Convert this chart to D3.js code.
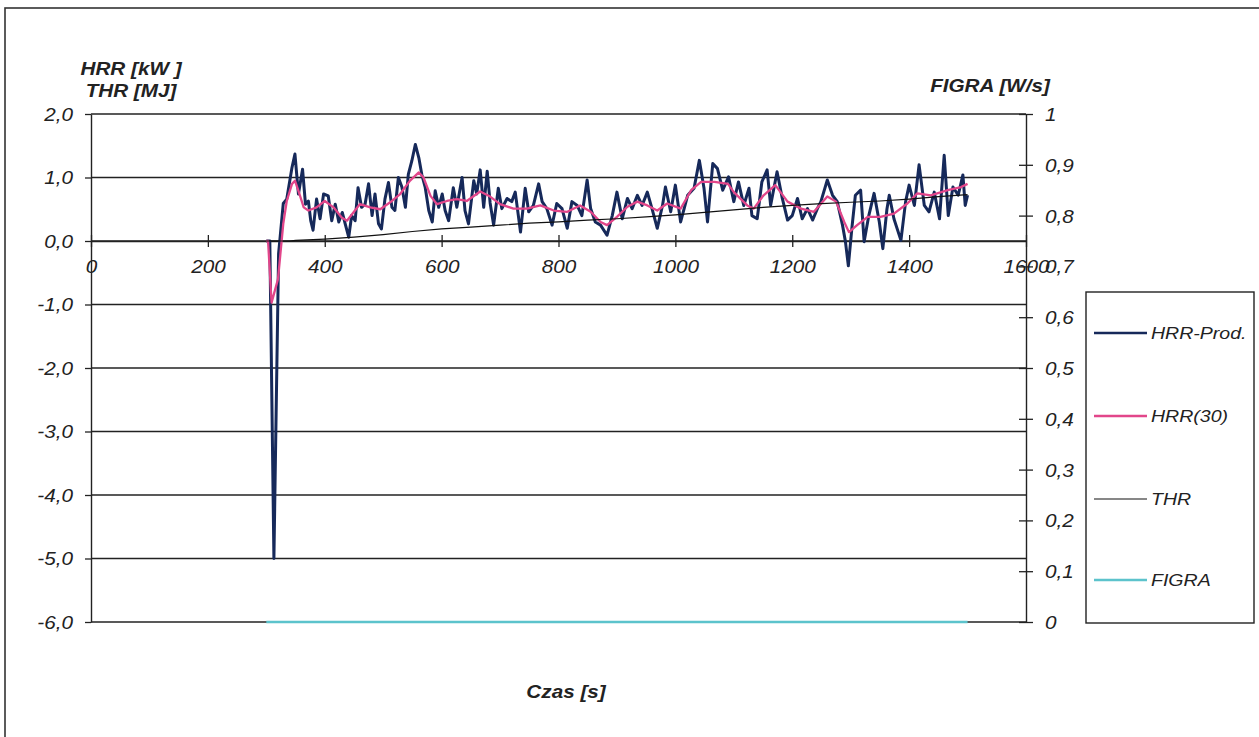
<!DOCTYPE html>
<html>
<head>
<meta charset="utf-8">
<script src="https://cdn.jsdelivr.net/npm/d3@7"></script>
<style>
  body { margin: 0; background: #fff; }
  svg text { font-family: "Liberation Sans", Arial, sans-serif; font-style: italic; fill: #222; }
</style>
</head>
<body>
<div id="chart"></div>
<script>
// values: [time s, value]
const hrrProd = [
  [300,0],[306,0],[313,-5],[321,-0.2],[329,0.59],[335,0.66],[344,1.16],[349,1.37],[352,1.05],[355,0.74],
  [362,1.13],[367,0.58],[372,0.63],[376,0.32],[380,0.17],[386,0.66],[392,0.35],[398,0.74],[406,0.71],[412,0.32],
  [418,0.58],[424,0.30],[430,0.45],[435,0.27],[441,0.06],[446,0.40],[452,0.32],[457,0.84],[463,0.53],[469,0.58],
  [475,0.90],[481,0.40],[486,0.74],[492,0.27],[497,0.19],[503,0.66],[509,0.92],[515,0.53],[520,0.48],[526,1.0],
  [532,0.85],[538,0.53],[543,1.05],[549,1.26],[555,1.52],[561,1.31],[566,1.05],[572,0.84],[578,0.48],[584,0.30],
  [589,0.79],[595,0.53],[601,0.74],[606,0.48],[612,0.32],[620,0.84],[626,0.53],[635,1.0],[640,0.48],[646,0.27],
  [655,0.95],[660,0.74],[666,1.12],[672,0.53],[678,1.1],[683,0.6],[689,0.25],[697,0.83],[703,0.51],[712,0.67],
  [720,0.62],[726,0.77],[735,0.14],[743,0.83],[749,0.46],[757,0.56],[766,0.90],[772,0.62],[780,0.51],[789,0.25],
  [797,0.59],[806,0.51],[815,0.20],[823,0.62],[832,0.56],[840,0.40],[849,0.96],[855,0.51],[863,0.30],[872,0.25],
  [883,0.09],[892,0.40],[900,0.77],[909,0.35],[918,0.67],[926,0.51],[935,0.72],[943,0.56],[952,0.77],[960,0.51],
  [969,0.20],[978,0.56],[983,0.85],[992,0.46],[1000,0.88],[1009,0.30],[1021,0.72],[1032,0.83],[1041,1.27],[1049,0.83],
  [1055,0.30],[1064,1.22],[1072,1.14],[1081,0.80],[1091,1.01],[1100,0.62],[1108,0.93],[1117,0.56],[1126,0.83],[1131,0.40],
  [1140,0.35],[1148,0.93],[1157,1.12],[1163,0.56],[1174,1.09],[1183,0.67],[1192,0.33],[1200,0.40],[1209,0.67],[1217,0.35],
  [1226,0.51],[1235,0.33],[1243,0.51],[1249,0.62],[1260,0.96],[1269,0.72],[1277,0.62],[1286,0.25],[1291,-0.01],[1296,-0.39],
  [1302,0.2],[1308,0.72],[1317,0.80],[1323,-0.01],[1331,0.40],[1340,0.75],[1349,0.30],[1355,-0.12],[1362,0.5],[1366,0.72],
  [1374,0.35],[1386,0.01],[1394,0.62],[1400,0.88],[1409,0.56],[1417,1.2],[1426,0.56],[1434,0.46],[1443,0.77],[1452,0.35],
  [1460,1.35],[1467,0.40],[1475,0.85],[1484,0.72],[1492,1.04],[1496,0.56],[1500,0.72]
];

const hrr30 = [
  [300,0],[303,0],[309,-0.97],[320,-0.6],[329,0.27],[335,0.63],[344,0.9],[349,0.95],[355,0.79],[364,0.53],
  [372,0.48],[386,0.53],[400,0.63],[415,0.53],[429,0.37],[438,0.32],[449,0.45],[460,0.58],[478,0.53],[495,0.50],
  [512,0.61],[529,0.74],[546,0.95],[561,1.08],[569,1.0],[581,0.71],[592,0.58],[609,0.63],[626,0.66],[643,0.63],
  [666,0.78],[683,0.70],[700,0.58],[723,0.51],[746,0.51],[769,0.56],[792,0.48],[815,0.46],[837,0.56],[855,0.46],
  [872,0.30],[883,0.25],[900,0.38],[918,0.54],[935,0.62],[952,0.56],[969,0.48],[986,0.59],[1009,0.51],[1027,0.80],
  [1044,0.93],[1067,0.93],[1090,0.90],[1100,0.77],[1123,0.56],[1134,0.51],[1151,0.72],[1171,0.88],[1192,0.62],[1215,0.51],
  [1237,0.46],[1260,0.70],[1275,0.62],[1289,0.30],[1297,0.14],[1311,0.25],[1329,0.38],[1351,0.38],[1374,0.43],[1397,0.59],
  [1414,0.75],[1437,0.72],[1466,0.80],[1489,0.85],[1500,0.90]
];

const thr = [
  [300,0],[340,0],[350,0.01],[400,0.03],[450,0.06],[500,0.1],[550,0.15],[600,0.19],[650,0.22],[700,0.25],
  [750,0.28],[800,0.3],[850,0.33],[900,0.35],[950,0.38],[1000,0.41],[1050,0.45],[1100,0.49],[1150,0.53],[1200,0.56],
  [1250,0.59],[1300,0.61],[1350,0.63],[1400,0.66],[1450,0.70],[1500,0.73]
];

const figra = [[300,0],[1500,0]];

const leftTicks = [2, 1, 0, -1, -2, -3, -4, -5, -6];
const rightTicks = [0, 0.1, 0.2, 0.3, 0.4, 0.5, 0.6, 0.7, 0.8, 0.9, 1];
const xTicks = [0, 200, 400, 600, 800, 1000, 1200, 1400, 1600];
const seriesNames = ["HRR-Prod.", "HRR(30)", "THR", "FIGRA"];
const seriesColors = ["#16295a", "#e2468a", "#111", "#5cc3cc"];
const seriesWidths = [3, 2.3, 1.2, 2.6];

const width = 1259, height = 737;
const sx = 1.15; // scan is stretched horizontally

const svg = d3.select("#chart").append("svg")
  .attr("width", width).attr("height", height);

// outer frame
svg.append("rect")
  .attr("x", 5).attr("y", 8).attr("width", 1300).attr("height", 800)
  .attr("fill", "none").attr("stroke", "#333").attr("stroke-width", 1.6);

const x = d3.scaleLinear([0, 1600], [91, 1026]);
const y = d3.scaleLinear([-6, 2], [622, 114]);
const y2 = d3.scaleLinear([0, 1], [622, 114]);

const comma = d => d.toFixed(1).replace(".", ",");

function label(px, py, str, anchor, size, bold) {
  svg.append("text")
    .attr("transform", `translate(${px},${py}) scale(${sx},1)`)
    .attr("text-anchor", anchor)
    .attr("font-size", size)
    .attr("font-weight", bold ? "bold" : "normal")
    .text(str);
}

// gridlines
svg.append("g").selectAll("line")
  .data(leftTicks)
  .join("line")
    .attr("x1", x(0)).attr("x2", x(1600))
    .attr("y1", d => y(d)).attr("y2", d => y(d))
    .attr("stroke", "#222").attr("stroke-width", 1.3);

// left axis
const gl = svg.append("g")
  .attr("transform", `translate(${x(0)},0)`)
  .call(d3.axisLeft(y).tickValues(leftTicks).tickFormat(comma).tickSizeInner(6).tickSizeOuter(0));
gl.select(".domain").attr("stroke", "#222").attr("stroke-width", 1.4);
gl.selectAll(".tick line").attr("stroke", "#222").attr("stroke-width", 1.3);
gl.selectAll(".tick text")
  .attr("x", -18 / sx).attr("dy", "0.36em")
  .attr("transform", `scale(${sx},1)`)
  .attr("font-size", 18).attr("font-family", null).attr("fill", "#222");

// right axis (FIGRA)
const gr = svg.append("g")
  .attr("transform", `translate(${x(1600)},0)`)
  .call(d3.axisRight(y2).tickValues(rightTicks)
    .tickFormat(d => d === 0 ? "0" : d === 1 ? "1" : comma(d)).tickSizeOuter(0));
gr.select(".domain").attr("stroke", "#222").attr("stroke-width", 1.4);
gr.selectAll(".tick line").attr("x1", -7).attr("x2", 7).attr("stroke", "#222").attr("stroke-width", 1.3);
gr.selectAll(".tick text")
  .attr("x", 19 / sx).attr("dy", "0.36em")
  .attr("transform", `scale(${sx},1)`)
  .attr("font-size", 18).attr("font-family", null).attr("fill", "#222");

// x axis at y = 0
const gx = svg.append("g")
  .attr("transform", `translate(0,${y(0)})`)
  .call(d3.axisBottom(x).tickValues(xTicks).tickFormat(d => String(d)).tickSizeOuter(0));
gx.select(".domain").attr("stroke", "#222").attr("stroke-width", 1.4);
gx.selectAll(".tick line").attr("y1", -6).attr("y2", 6).attr("stroke", "#222").attr("stroke-width", 1.3);
gx.selectAll(".tick text")
  .attr("y", 26).attr("dy", "0.36em")
  .attr("transform", `scale(${sx},1)`)
  .attr("font-size", 18).attr("font-family", null).attr("fill", "#222");

// series
const line = sc => d3.line().x(d => x(d[0])).y(d => sc(d[1]));
const series = [
  { data: hrrProd, sc: y },
  { data: hrr30, sc: y },
  { data: thr, sc: y },
  { data: figra, sc: y2 }
];
series.forEach((s, i) => {
  svg.append("path")
    .datum(s.data)
    .attr("d", line(s.sc))
    .attr("fill", "none")
    .attr("stroke", seriesColors[i])
    .attr("stroke-width", seriesWidths[i])
    .attr("stroke-linejoin", "round");
});

// axis titles
label(131, 75, "HRR [kW ]", "middle", 18, true);
label(131, 97, "THR [MJ]", "middle", 18, true);
label(1050, 92, "FIGRA [W/s]", "end", 18, true);
label(566, 698, "Czas [s]", "middle", 18, true);

// legend
svg.append("rect")
  .attr("x", 1086).attr("y", 292).attr("width", 168).attr("height", 331)
  .attr("fill", "#fff").attr("stroke", "#222").attr("stroke-width", 1.4);
const legY = [333, 416, 499, 580];
seriesNames.forEach((name, i) => {
  svg.append("line")
    .attr("x1", 1094).attr("x2", 1147)
    .attr("y1", legY[i]).attr("y2", legY[i])
    .attr("stroke", seriesColors[i])
    .attr("stroke-width", i === 2 ? 1.2 : 2.6);
  label(1151, legY[i] + 6, name, "start", 17, false);
});
</script>
</body>
</html>
